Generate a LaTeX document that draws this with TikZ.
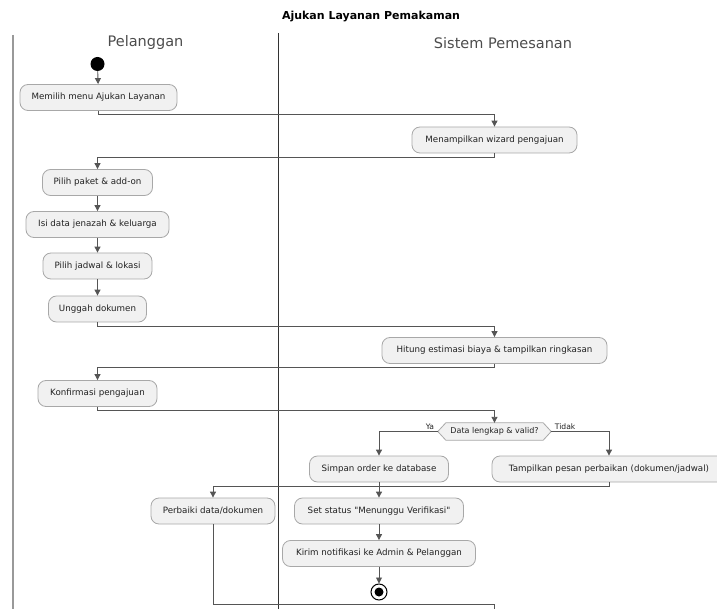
\documentclass[tikz,border=0pt]{standalone}
\usepackage{fontspec}
\setmainfont{DejaVu Sans}
\usetikzlibrary{arrows.meta,backgrounds}
\definecolor{boxfill}{HTML}{F1F1F1}
\definecolor{boxline}{HTML}{A8A8A8}
\definecolor{flowline}{HTML}{555555}
\definecolor{txt}{HTML}{222222}
\tikzset{
  act/.style={draw=boxline, fill=boxfill, rounded corners=8pt, line width=0.8pt,
    minimum height=26pt, inner xsep=4pt, inner ysep=0pt, align=center,
    font=\fontsize{8.7}{10}\selectfont, text=txt},
  flow/.style={draw=flowline, line width=0.9pt, -{Triangle[length=6pt,width=6pt]}},
  plain/.style={draw=flowline, line width=0.9pt},
  lbl/.style={font=\fontsize{7.6}{9}\selectfont, text=txt, inner sep=1pt},
  hdr/.style={font=\fontsize{14.5}{16}\selectfont, text=black!70},
}
\begin{document}
\begin{tikzpicture}[x=1pt,y=-1pt]
\useasboundingbox (0,0) rectangle (717,609);
% title and lanes
\node[font=\bfseries\fontsize{11}{13}\selectfont] (title) at (371,17) {Ajukan Layanan Pemakaman};
\node[hdr] (h1) at (145.5,43) {Pelanggan};
\node[hdr] (h2) at (503,43) {Sistem Pemesanan};
\coordinate (l1t) at (13,35); \coordinate (l1b) at (13,615);
\coordinate (l2t) at (278,33); \coordinate (l2b) at (278,615);
\draw[line width=2pt, draw=black!40] (l1t) -- (l1b);
\draw[line width=1pt, draw=black!80] (l2t) -- (l2b);
% start
\node[circle, fill=black, minimum size=14pt, inner sep=0pt] (start) at (97.5,64) {};
% activities
\node[act, minimum width=157pt] (m1) at (98.5,97.5) {Memilih menu Ajukan Layanan};
\node[act, minimum width=165pt] (m2) at (494.5,140) {Menampilkan wizard pengajuan};
\node[act, minimum width=110pt] (m3) at (97.5,182.5) {Pilih paket \& add-on};
\node[act, minimum width=143pt] (m4) at (97.5,224.5) {Isi data jenazah \& keluarga};
\node[act, minimum width=109pt] (m5) at (97.5,266) {Pilih jadwal \& lokasi};
\node[act, minimum width=98pt] (m6) at (97.5,309) {Unggah dokumen};
\node[act, minimum width=225pt] (m7) at (494.5,350.5) {Hitung estimasi biaya \& tampilkan ringkasan};
\node[act, minimum width=119pt] (m8) at (97.5,393.5) {Konfirmasi pengajuan};
\node[font=\fontsize{8}{10}\selectfont, text=txt, minimum width=113pt, minimum height=17pt, inner sep=0pt] (d) at (494.5,431.5) {Data lengkap \& valid?};
\begin{scope}[on background layer]
\draw[draw=boxline, fill=boxfill, line width=0.8pt]
  (d.west) -- ([xshift=8pt]d.north west) -- ([xshift=-8pt]d.north east) -- (d.east)
  -- ([xshift=-8pt]d.south east) -- ([xshift=8pt]d.south west) -- cycle;
\end{scope}
\node[act, minimum width=139pt] (m9) at (379,469) {Simpan order ke database};
\node[act, minimum width=234pt] (m10) at (609,469) {Tampilkan pesan perbaikan (dokumen/jadwal)};
\node[act, minimum width=124pt] (m11) at (213,511) {Perbaiki data/dokumen};
\node[act, minimum width=169pt] (m12) at (379,511) {Set status \textquotedbl Menunggu Verifikasi\textquotedbl};
\node[act, minimum width=193pt] (m13) at (379,553.5) {Kirim notifikasi ke Admin \& Pelanggan};
% end
\node[circle, draw=black, line width=1pt, fill=white, minimum size=16pt, inner sep=0pt] (end) at (379,592) {};
\node[circle, fill=black, minimum size=9pt, inner sep=0pt] (endin) at (end.center) {};
% connectors
\draw[flow] (start) -- (m1);
\draw[flow] (m1.south) -- ++(0,4) -| (m2.north);
\draw[flow] (m2.south) -- ++(0,4) -| (m3.north);
\draw[flow] (m3) -- (m4);
\draw[flow] (m4) -- (m5);
\draw[flow] (m5) -- (m6);
\draw[flow] (m6.south) -- ++(0,4) -| (m7.north);
\draw[flow] (m7.south) -- ++(0,4) -| (m8.north);
\draw[flow] (m8.south) -- ++(0,4) -| (d.north);
\draw[flow] (d.west) -| node[lbl, pos=0.02, anchor=south east] {Ya} (m9.north);
\draw[flow] (d.east) -| node[lbl, pos=0.02, anchor=south west] {Tidak} (m10.north);
\draw[flow] (m10.south) -- ++(0,4) -| (m11.north);
\draw[flow] (m9) -- (m12);
\draw[flow] (m12) -- (m13);
\draw[flow] (m13) -- (end);
\coordinate (loop) at (494.5,620);
\draw[plain] (m11.south) |- (loop |- 0,604) -- (loop);
\end{tikzpicture}
\end{document}
